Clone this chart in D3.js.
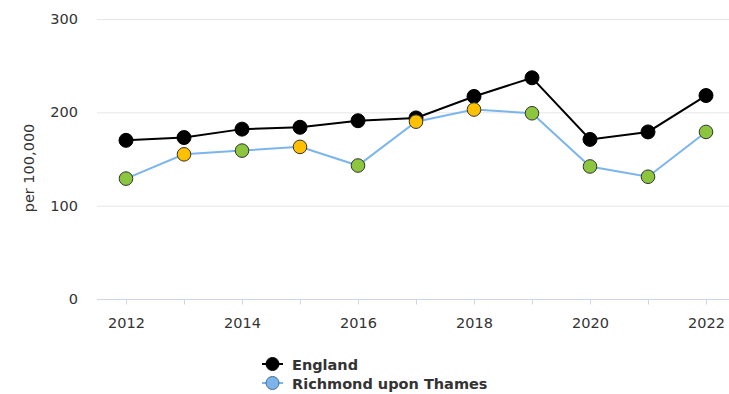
<!DOCTYPE html>
<html><head><meta charset="utf-8">
<script src="https://cdn.jsdelivr.net/npm/d3@7"></script>
<style>body{margin:0;background:#fff}svg{display:block}</style>
</head><body><div id="chart"></div>
<script>
const years = [2012,2013,2014,2015,2016,2017,2018,2019,2020,2021,2022];
const england = [170,173,182,184,191,194,217,237,171,179,218];
const richmond = [129,155,159,163,143,190,203,199,142,131,179];
const richmondSig = ["better","similar","better","similar","better","similar","similar","better","better","better","better"];
const yTicks = [0,100,200,300];
const xTickLabels = [2012,2014,2016,2018,2020,2022];
const seriesNames = ["England","Richmond upon Thames"];

const W = 729, H = 394;
const svg = d3.select("#chart").append("svg").attr("width", W).attr("height", H);
const font = "'DejaVu Sans', Verdana, sans-serif";

const x = d3.scaleLinear().domain([2011.5, 2022.5]).range([97, 735]);
const y = d3.scaleLinear().domain([0, 300]).range([299, 19]);

// gridlines
svg.append("g").selectAll("line").data(yTicks.filter(d => d > 0)).join("line")
  .attr("x1", 97).attr("x2", W).attr("y1", d => y(d)+0.5).attr("y2", d => y(d)+0.5)
  .attr("stroke", "#e6e6e6").attr("stroke-width", 1);

// y labels
svg.append("g").selectAll("text").data(yTicks).join("text")
  .attr("x", 78).attr("y", d => y(d) + 5)
  .attr("text-anchor", "end").attr("font-family", font).attr("font-size", 14.5).attr("fill", "#333")
  .text(d => d);

// y title
svg.append("text").attr("transform", `translate(34,${y(150)+9}) rotate(-90)`)
  .attr("text-anchor", "middle").attr("font-family", font).attr("font-size", 14.5).attr("fill", "#333")
  .text("per 100,000");

// x axis
const xAxis = d3.axisBottom(x).tickValues(years).tickSize(5).tickFormat(d => xTickLabels.includes(d) ? d : "");
const gx = svg.append("g").attr("transform", `translate(0,${y(0)+0.5})`).call(xAxis);
gx.select(".domain").attr("stroke", "#ccd6eb").attr("d", `M97,0H${W}`);
gx.selectAll(".tick line").attr("stroke", "#ccd6eb");
gx.selectAll(".tick text").attr("font-family", font).attr("font-size", 14.5).attr("fill", "#333").attr("y", 0).attr("dy", 0)
  .attr("transform", "translate(0,28)");

const line = d3.line().x((d,i) => x(years[i])).y(d => y(d));

svg.append("path").datum(richmond).attr("d", line).attr("fill", "none").attr("stroke", "#7cb5ec").attr("stroke-width", 2);
svg.append("path").datum(england).attr("d", line).attr("fill", "none").attr("stroke", "#000").attr("stroke-width", 2);

svg.append("g").selectAll("circle").data(england).join("circle")
  .attr("cx", (d,i) => x(years[i])).attr("cy", d => y(d)).attr("r", 7).attr("fill", "#000").attr("stroke", "#000");

const sigColor = {better: "#8cc63f", similar: "#ffc000"};
svg.append("g").selectAll("circle").data(richmond).join("circle")
  .attr("cx", (d,i) => x(years[i])).attr("cy", d => y(d)).attr("r", 6.8)
  .attr("fill", (d,i) => sigColor[richmondSig[i]]).attr("stroke", "#333").attr("stroke-width", 1);

// legend
const legend = svg.append("g");
const lx = 262, ly = [364, 383];
const lcol = [["#000","#000","#000"],["#7cb5ec","#7cb5ec","#4a6a8a"]];
seriesNames.forEach((n, i) => {
  const g = legend.append("g");
  g.append("line").attr("x1", lx).attr("x2", lx+21).attr("y1", ly[i]).attr("y2", ly[i]).attr("stroke", lcol[i][0]).attr("stroke-width", 2);
  g.append("circle").attr("cx", lx+10.5).attr("cy", ly[i]).attr("r", 6.5).attr("fill", lcol[i][1]).attr("stroke", lcol[i][2]);
  g.append("text").attr("x", lx+30).attr("y", ly[i]+5.5).attr("font-family", font).attr("font-size", 14.5)
    .attr("font-weight", "bold").attr("fill", "#333").text(n);
});
</script></body></html>
